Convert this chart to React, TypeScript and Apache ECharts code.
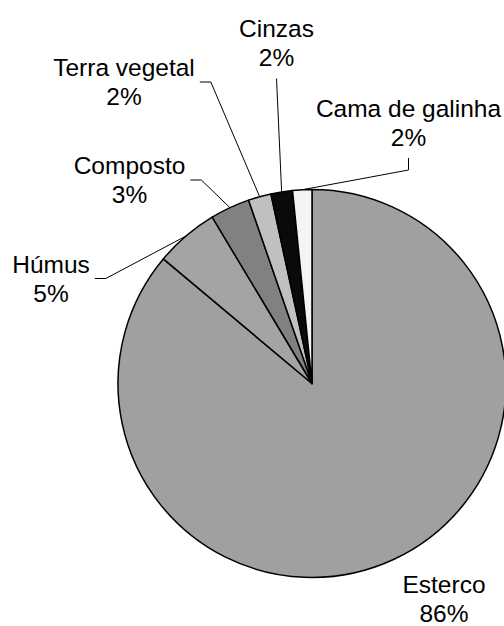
import React, { useEffect, useRef } from "react";
import * as echarts from "echarts";

const categories = ["Esterco", "Húmus", "Composto", "Terra vegetal", "Cinzas", "Cama de galinha"];
const values = [86.1, 5.3, 3.3, 1.9, 1.8, 1.6];
const colors = ["#a0a0a0", "#a4a4a4", "#818181", "#c0c0c0", "#0a0a0a", "#f4f4f4"];

// label block centres and leader style (layout only)
const labelPos: { x: number; y: number; side: "none" | "right" | "bottom" | "straight" }[] = [
  { x: 444, y: 599, side: "none" },
  { x: 51, y: 278.5, side: "right" },
  { x: 129.5, y: 180, side: "right" },
  { x: 124, y: 82, side: "right" },
  { x: 276.5, y: 42.5, side: "straight" },
  { x: 408.5, y: 123, side: "bottom" },
];

export default function App() {
  const ref = useRef<HTMLDivElement>(null);
  useEffect(() => {
    if (!ref.current) return;
    const chart = echarts.init(ref.current, null, { renderer: "svg" });
    chart.setOption({
      animation: false,
      backgroundColor: "#ffffff",
      series: [
        {
          type: "pie",
          center: [312, 383.5],
          radius: 194,
          startAngle: 90,
          clockwise: true,
          avoidLabelOverlap: false,
          itemStyle: { borderColor: "#000", borderWidth: 1.5 },
          label: {
            show: true,
            position: "outside",
            formatter: (p: any) => `${p.name}\n${Math.round(p.percent)}%`,
            fontFamily: "'Liberation Sans', Arial, sans-serif",
            fontSize: 24.5,
            lineHeight: 29,
            color: "#000",
            align: "center",
          },
          labelLine: {
            show: true,
            length: 15,
            length2: 10,
            lineStyle: { color: "#000", width: 1 },
          },
          labelLayout: (params: any) => {
            const lp = labelPos[params.dataIndex];
            const w = params.labelRect.width;
            const h = params.labelRect.height;
            const res: any = { x: lp.x, y: lp.y, align: "center", verticalAlign: "middle" };
            const pts = params.labelLinePoints;
            if (pts && pts.length && lp.side !== "none") {
              const a = pts[0];
              if (lp.side === "right") {
                const s = [lp.x + w / 2 + 5, lp.y];
                res.labelLinePoints = [a, [s[0] + 11, s[1]], s];
              } else if (lp.side === "bottom") {
                const s = [lp.x, lp.y + h / 2 + 6];
                res.labelLinePoints = [a, [s[0], s[1] + 12], s];
              } else {
                const s = [lp.x, lp.y + h / 2 + 7];
                res.labelLinePoints = [a, s];
              }
            }
            return res;
          },
          data: categories.map((name, i) => ({
            name,
            value: values[i],
            itemStyle: { color: colors[i] },
            labelLine: { show: i !== 0 },
          })),
        },
      ],
    });
    return () => chart.dispose();
  }, []);
  return (
    <div
      ref={ref}
      style={{ position: "absolute", left: 0, top: 0, width: 504, height: 626 }}
    />
  );
}
